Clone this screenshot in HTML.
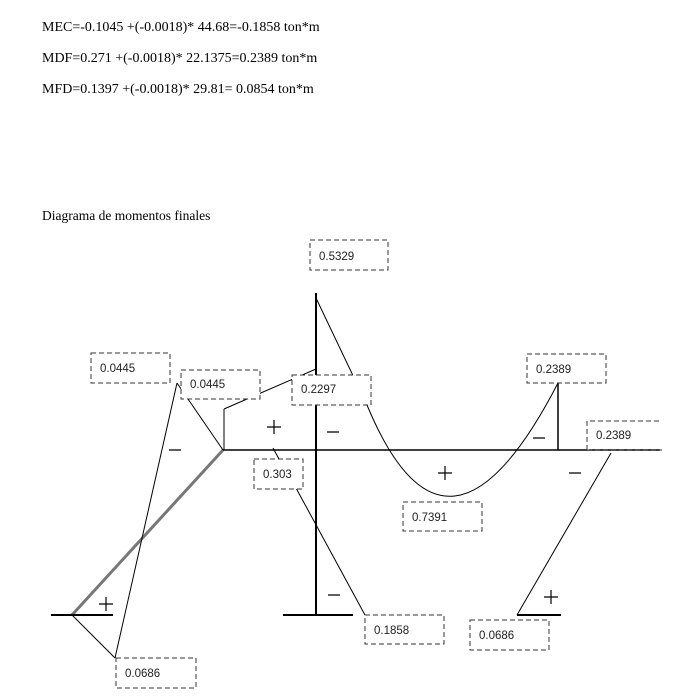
<!DOCTYPE html><html><head><style>
body{margin:0;width:676px;height:698px;background:#fff;position:relative;overflow:hidden}
.t{position:absolute;left:42px;font-family:"Liberation Serif",serif;font-size:14px;color:#000;white-space:nowrap}
</style></head><body>
<div class="t" style="top:20px">MEC=-0.1045 +(-0.0018)* 44.68=-0.1858 ton*m</div>
<div class="t" style="top:51px">MDF=0.271 +(-0.0018)* 22.1375=0.2389 ton*m</div>
<div class="t" style="top:82px">MFD=0.1397 +(-0.0018)* 29.81= 0.0854 ton*m</div>
<div class="t" style="top:208px;font-size:13.5px">Diagrama de momentos finales</div>
<svg width="676" height="698" style="position:absolute;left:0;top:0" font-family="Liberation Sans, sans-serif" font-size="11.5">
<g stroke="#000" fill="none" stroke-width="1">
<line x1="72" y1="615" x2="223" y2="450" stroke="#777" stroke-width="3"/>
<line x1="51" y1="615" x2="113" y2="615" stroke-width="2"/>
<line x1="283" y1="615" x2="353" y2="615" stroke-width="2"/>
<line x1="517" y1="615" x2="561" y2="615" stroke-width="2"/>
<line x1="223" y1="450" x2="660" y2="450" stroke-width="1.5"/>
<line x1="316" y1="293" x2="316" y2="615" stroke-width="2"/>
<line x1="72" y1="615" x2="115" y2="658"/>
<line x1="115" y1="658" x2="177" y2="383"/>
<line x1="177" y1="383" x2="223" y2="450"/>
<line x1="224" y1="409" x2="224" y2="450"/>
<line x1="224" y1="409" x2="316" y2="369"/>
<line x1="273" y1="448" x2="279" y2="459"/>
<line x1="296" y1="488" x2="365" y2="615"/>
<path d="M316 298 L367 405 Q447 598 558 383"/>
<line x1="558" y1="383" x2="558" y2="450" stroke-width="1.5"/>
<line x1="611" y1="453" x2="517" y2="615"/>
</g>
<g stroke="#333" stroke-dasharray="5,3" fill="#fff" stroke-width="1">
<rect x="310" y="240" width="78" height="30"/>
<rect x="91" y="353" width="79" height="30"/>
<rect x="181" y="370" width="79" height="29"/>
<rect x="292" y="375" width="79" height="30"/>
<rect x="254" y="459" width="49" height="30"/>
<rect x="527" y="354" width="79" height="29"/>
<path d="M587 450 V421 H662 M587 450 H662"/>
<rect x="403" y="502" width="79" height="29"/>
<rect x="116" y="658" width="80" height="30"/>
<rect x="365" y="615" width="79" height="29"/>
<rect x="470" y="620" width="79" height="30"/>
</g>
<g fill="#222">
<text x="319" y="260">0.5329</text>
<text x="100" y="372">0.0445</text>
<text x="190" y="388">0.0445</text>
<text x="301" y="393">0.2297</text>
<text x="263" y="478">0.303</text>
<text x="536" y="373">0.2389</text>
<text x="596" y="439">0.2389</text>
<text x="412" y="521">0.7391</text>
<text x="125" y="677">0.0686</text>
<text x="374" y="634">0.1858</text>
<text x="479" y="639">0.0686</text>
</g>
<g stroke="#000" stroke-width="1.2">
<path d="M267 427h14M274 420v14"/>
<path d="M438 473h14M445 466v14"/>
<path d="M99 604h14M106 597v14"/>
<path d="M544 597h14M551 590v14"/>
<path d="M169 450h12M327 432h12M533 438h12M569 473h12M328 595h12"/>
</g>
</svg>
</body></html>
